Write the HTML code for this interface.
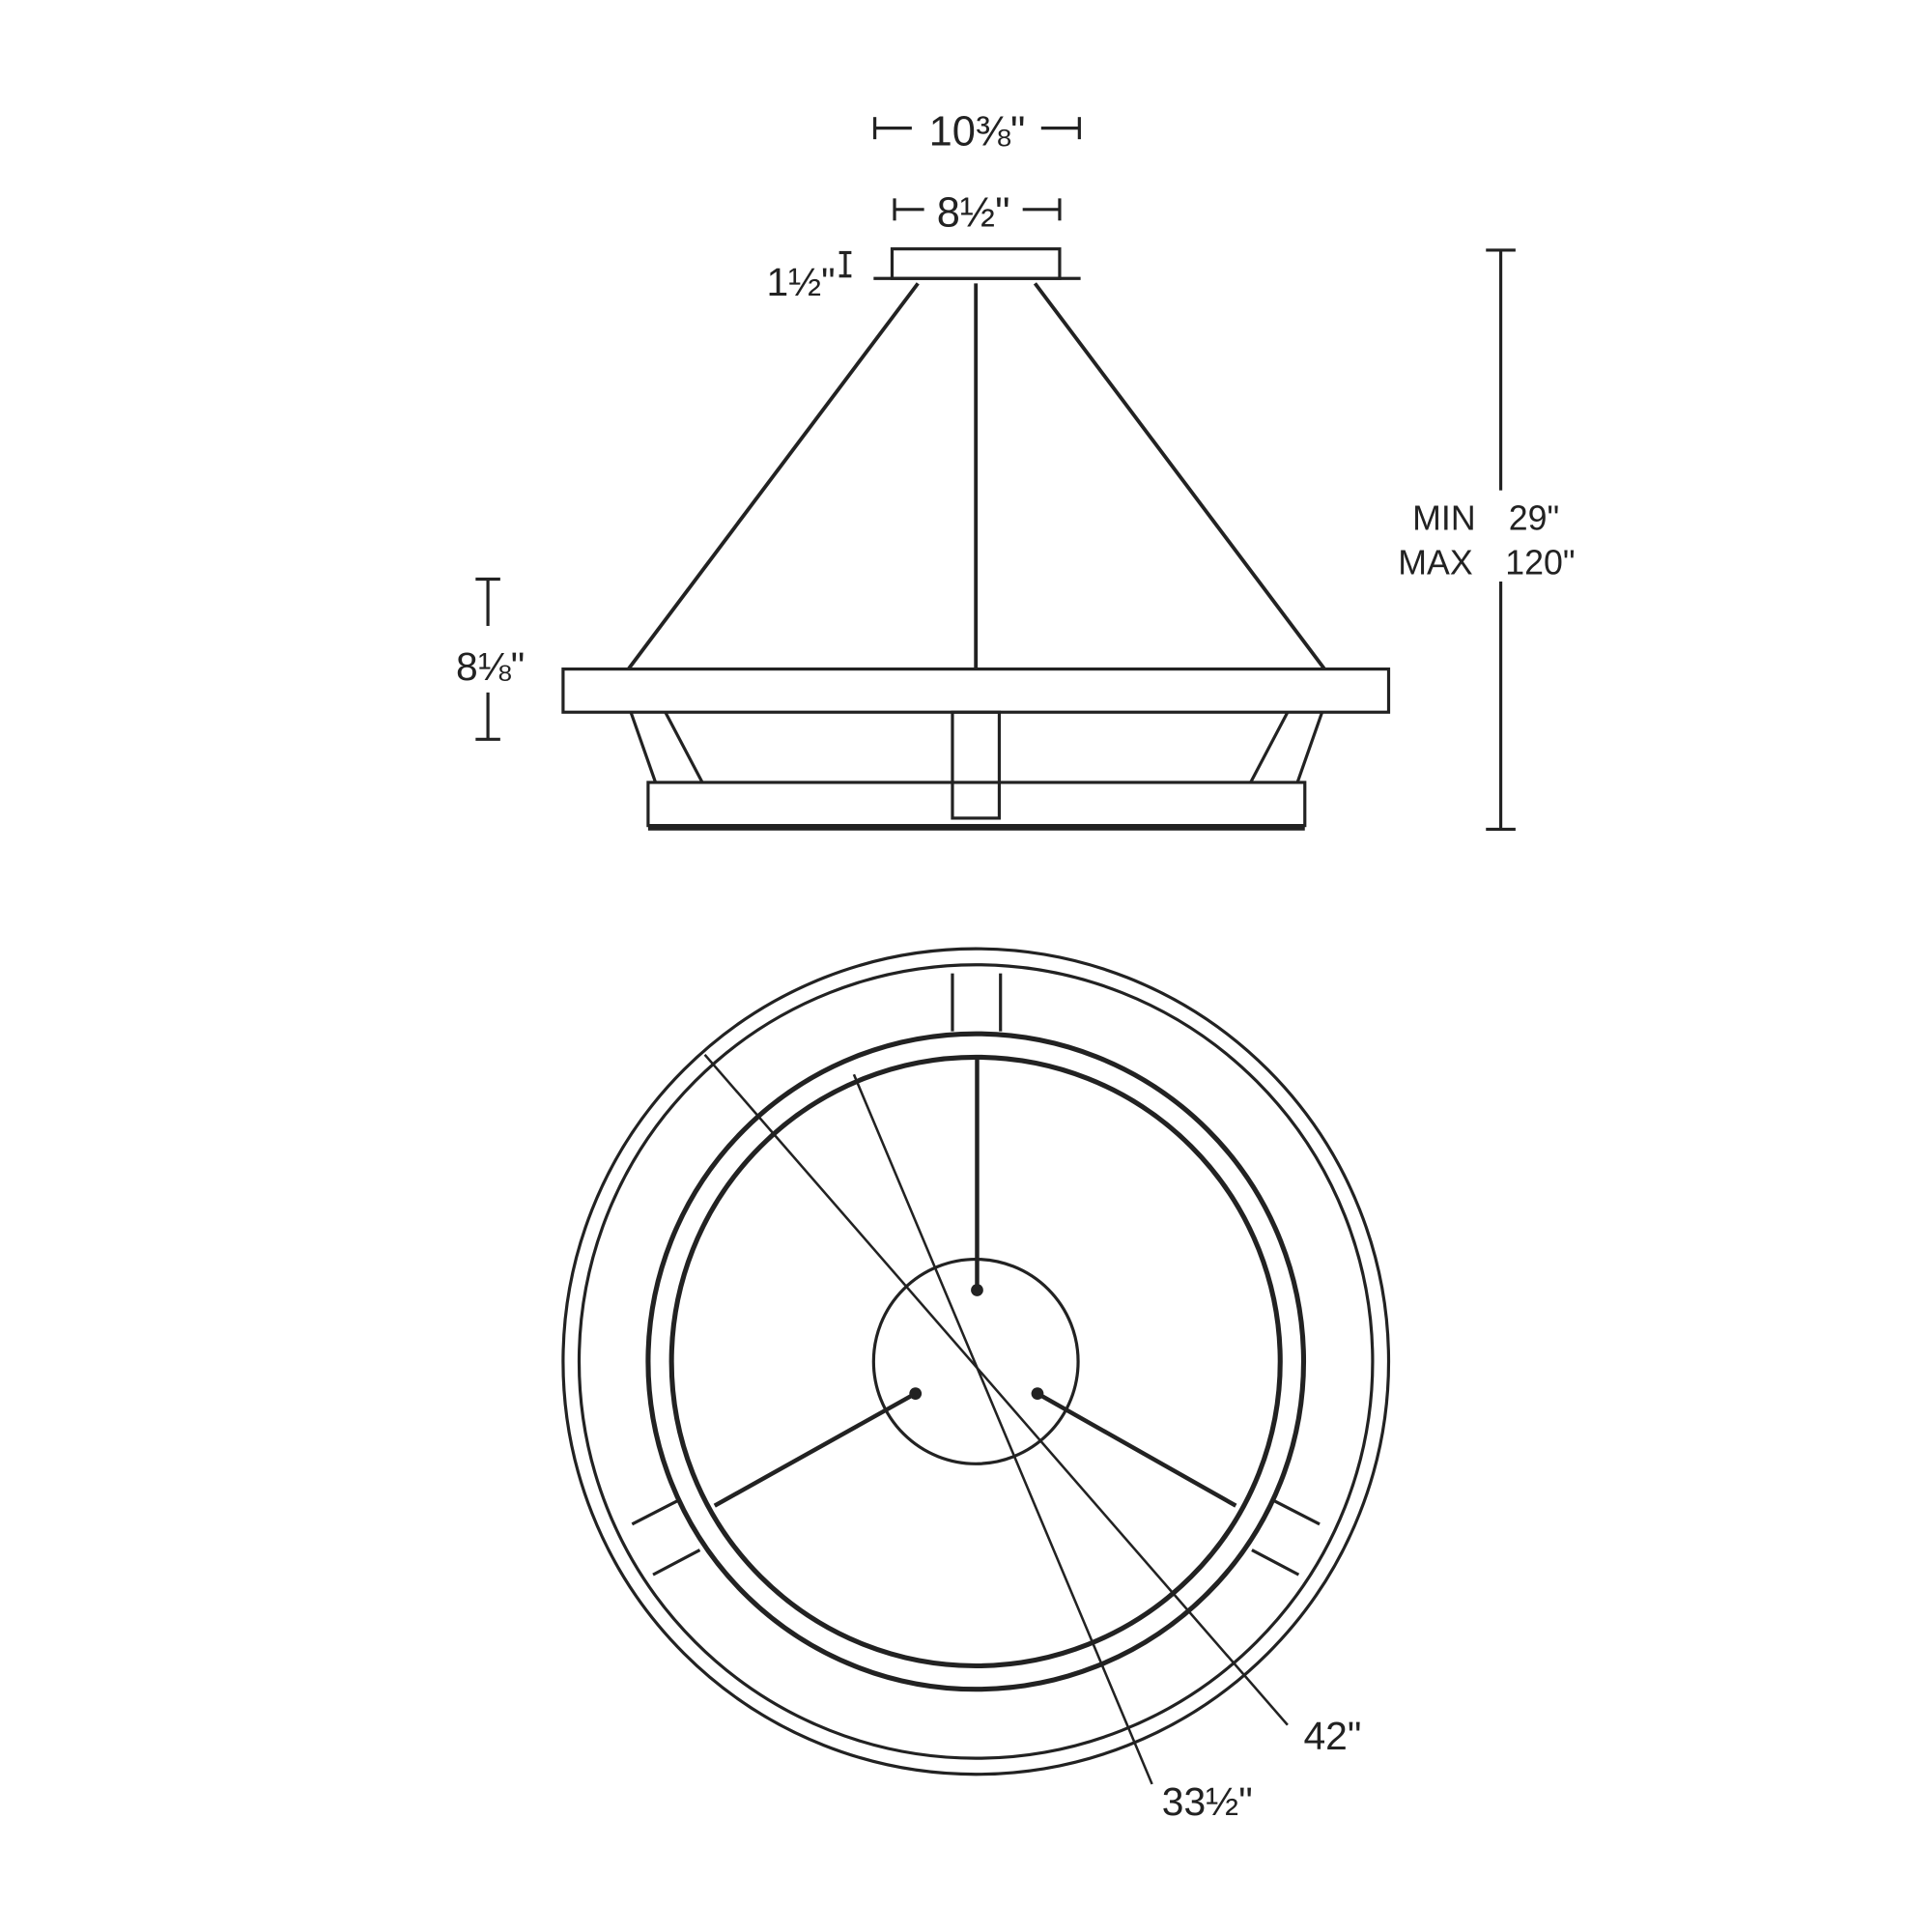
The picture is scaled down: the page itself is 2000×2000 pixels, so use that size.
<!DOCTYPE html>
<html><head><meta charset="utf-8"><style>
html,body{margin:0;padding:0;background:#fff}
svg{display:block}
text{font-family:"Liberation Sans",sans-serif;fill:#222}
</style></head><body>
<svg width="2000" height="2000" viewBox="0 0 1568 1568" xmlns="http://www.w3.org/2000/svg">
<g stroke="#222" fill="none" stroke-width="2.5">
<!-- top dims -->
<line x1="710" y1="104" x2="740" y2="104"/><line x1="710" y1="95" x2="710" y2="113"/>
<line x1="845" y1="104" x2="876" y2="104"/><line x1="876" y1="95" x2="876" y2="113"/>
<line x1="726" y1="170" x2="750" y2="170"/><line x1="726" y1="161" x2="726" y2="179"/>
<line x1="830" y1="170" x2="860" y2="170"/><line x1="860" y1="161" x2="860" y2="179"/>
<!-- canopy -->
<rect x="724" y="202" width="136" height="24"/>
<line x1="709" y1="226" x2="877" y2="226"/>
<line x1="686" y1="205" x2="686" y2="224"/><line x1="681" y1="205" x2="691" y2="205"/><line x1="681" y1="224" x2="691" y2="224"/>
<!-- cables -->
<line x1="745" y1="230" x2="510" y2="543" stroke-width="3"/>
<line x1="792" y1="230" x2="792" y2="543" stroke-width="3"/>
<line x1="840" y1="230" x2="1075" y2="543" stroke-width="3"/>
<!-- rings side -->
<rect x="457" y="543" width="670" height="35"/>
<rect x="526" y="635" width="533" height="35"/>
<line x1="526" y1="672" x2="1059" y2="672" stroke-width="4"/>
<rect x="773" y="578" width="38" height="86"/>
<line x1="512" y1="578" x2="532" y2="635"/><line x1="540" y1="578" x2="570" y2="635"/>
<line x1="1073" y1="578" x2="1053" y2="635"/><line x1="1045" y1="578" x2="1015" y2="635"/>
<!-- 8 1/8 -->
<line x1="396" y1="470" x2="396" y2="508"/><line x1="386" y1="470" x2="406" y2="470"/>
<line x1="396" y1="562" x2="396" y2="600"/><line x1="386" y1="600" x2="406" y2="600"/>
<!-- right dim -->
<line x1="1218" y1="203" x2="1218" y2="398"/><line x1="1206" y1="203" x2="1230" y2="203"/>
<line x1="1218" y1="472" x2="1218" y2="673"/><line x1="1206" y1="673" x2="1230" y2="673"/>
<!-- bottom view -->
<circle cx="792" cy="1105" r="335"/>
<circle cx="792" cy="1105" r="322"/>
<circle cx="792" cy="1105" r="266" stroke-width="4"/>
<circle cx="792" cy="1105" r="247" stroke-width="4"/>
<circle cx="792" cy="1105" r="83"/>
<line x1="773" y1="790" x2="773" y2="837"/><line x1="812" y1="790" x2="812" y2="837"/>
<line x1="513" y1="1237" x2="550" y2="1218"/><line x1="530" y1="1278" x2="568" y2="1258"/>
<line x1="1071" y1="1237" x2="1034" y2="1218"/><line x1="1054" y1="1278" x2="1016" y2="1258"/>
<line x1="793" y1="1047" x2="793" y2="858" stroke-width="3.5"/>
<line x1="743" y1="1131" x2="580" y2="1222" stroke-width="3.5"/>
<line x1="842" y1="1131" x2="1003" y2="1222" stroke-width="3.5"/>
<line x1="572" y1="856" x2="1045" y2="1400" stroke-width="2"/>
<line x1="693" y1="872" x2="935" y2="1448" stroke-width="2"/>
</g>
<g fill="#222"><circle cx="793" cy="1047" r="5"/><circle cx="743" cy="1131" r="5"/><circle cx="842" cy="1131" r="5"/></g>
<text x="793" y="118" font-size="34" text-anchor="middle">10⅜"</text>
<text x="790" y="184" font-size="34" text-anchor="middle">8½"</text>
<text x="650" y="240" font-size="32" text-anchor="middle">1½"</text>
<text x="398" y="552" font-size="32" text-anchor="middle">8⅛"</text>
<text x="1172" y="430" font-size="28" text-anchor="middle">MIN</text>
<text x="1245" y="430" font-size="28" text-anchor="middle">29"</text>
<text x="1165" y="466" font-size="28" text-anchor="middle">MAX</text>
<text x="1250" y="466" font-size="28" text-anchor="middle">120"</text>
<text x="1058" y="1420" font-size="32">42"</text>
<text x="943" y="1473" font-size="32">33½"</text>
</svg>
</body></html>
